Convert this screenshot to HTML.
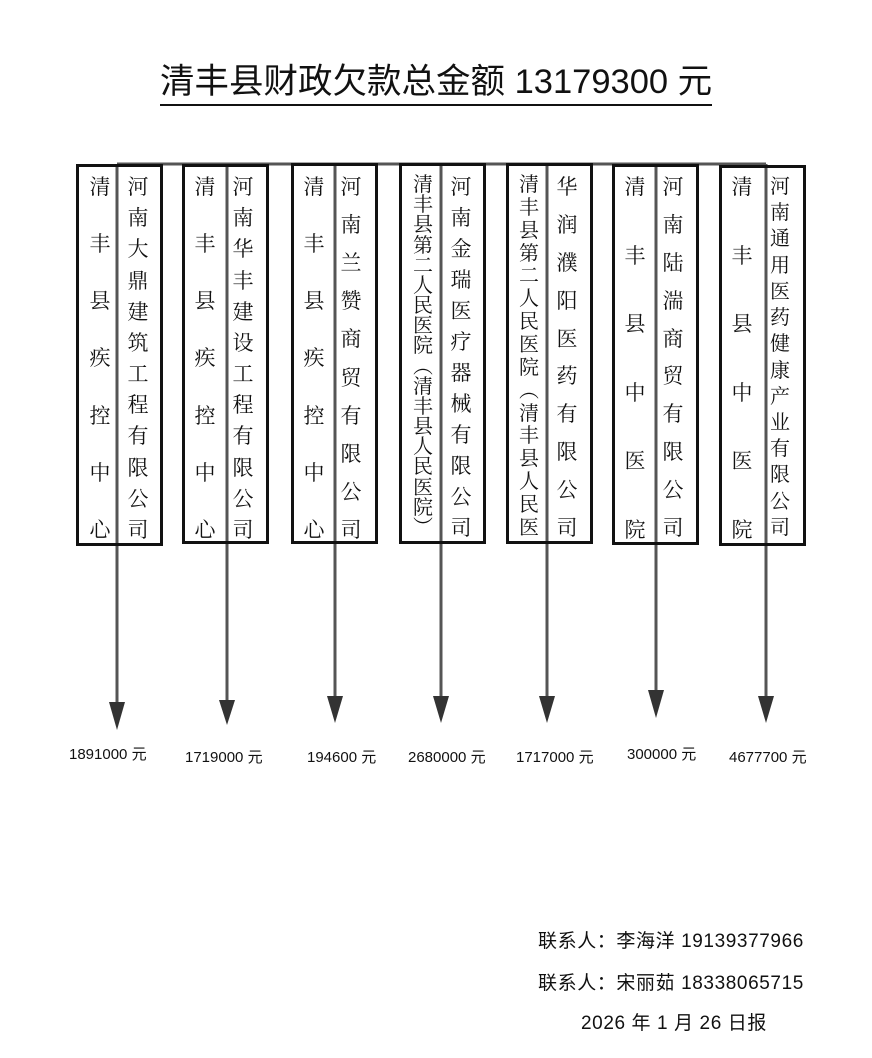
<!DOCTYPE html>
<html><head><meta charset="utf-8">
<style>
body{margin:0;background:#fff;}
#p{position:relative;width:872px;height:1058px;overflow:hidden;font-family:"Liberation Sans","Noto Sans CJK SC",sans-serif;color:#111;}
.box{position:absolute;border:3px solid #111;box-sizing:border-box;}
.col{position:absolute;display:flex;flex-direction:column;justify-content:space-between;align-items:center;font-family:"Noto Serif CJK SC","Noto Sans CJK SC",serif;font-size:21px;line-height:21px;width:30px;}
.col.d{font-size:20px;line-height:19px;}
.amt{position:absolute;top:743px;font-size:15px;font-family:"Liberation Sans","Noto Sans CJK SC",sans-serif;white-space:nowrap;}
.t{position:absolute;font-size:19px;white-space:nowrap;letter-spacing:0.6px;}
</style></head><body><div id="p">
<div style="position:absolute;left:160px;top:60px;font-size:34.5px;line-height:44px;white-space:nowrap;border-bottom:2px solid #111;">清丰县财政欠款总金额 13179300 元</div>

<svg width="872" height="1058" style="position:absolute;left:0;top:0">
<g stroke="#555" stroke-width="3">
<line x1="117" y1="164" x2="766" y2="164"/>
<line x1="117" y1="164" x2="117" y2="705"/>
<line x1="227" y1="164" x2="227" y2="702"/>
<line x1="335" y1="164" x2="335" y2="700"/>
<line x1="441" y1="164" x2="441" y2="700"/>
<line x1="547" y1="164" x2="547" y2="700"/>
<line x1="656" y1="164" x2="656" y2="695"/>
<line x1="766" y1="164" x2="766" y2="700"/>
</g>
<g fill="#333">
<polygon points="109,702 125,702 117,730"/>
<polygon points="219,700 235,700 227,725"/>
<polygon points="327,696 343,696 335,723"/>
<polygon points="433,696 449,696 441,723"/>
<polygon points="539,696 555,696 547,723"/>
<polygon points="648,690 664,690 656,718"/>
<polygon points="758,696 774,696 766,723"/>
</g>
</svg>

<div class="box" style="left:76px;top:164px;width:87px;height:382px"></div>
<div class="box" style="left:182px;top:164px;width:87px;height:380px"></div>
<div class="box" style="left:291px;top:163px;width:87px;height:381px"></div>
<div class="box" style="left:399px;top:163px;width:87px;height:381px"></div>
<div class="box" style="left:506px;top:163px;width:87px;height:381px"></div>
<div class="box" style="left:612px;top:164px;width:87px;height:381px"></div>
<div class="box" style="left:719px;top:165px;width:87px;height:381px"></div>

<div class="col" style="left:85px;top:176px;height:364px"><span>清</span><span>丰</span><span>县</span><span>疾</span><span>控</span><span>中</span><span>心</span></div>
<div class="col" style="left:123px;top:176px;height:364px"><span>河</span><span>南</span><span>大</span><span>鼎</span><span>建</span><span>筑</span><span>工</span><span>程</span><span>有</span><span>限</span><span>公</span><span>司</span></div>

<div class="col" style="left:190px;top:176px;height:364px"><span>清</span><span>丰</span><span>县</span><span>疾</span><span>控</span><span>中</span><span>心</span></div>
<div class="col" style="left:228px;top:176px;height:364px"><span>河</span><span>南</span><span>华</span><span>丰</span><span>建</span><span>设</span><span>工</span><span>程</span><span>有</span><span>限</span><span>公</span><span>司</span></div>

<div class="col" style="left:299px;top:176px;height:364px"><span>清</span><span>丰</span><span>县</span><span>疾</span><span>控</span><span>中</span><span>心</span></div>
<div class="col" style="left:336px;top:176px;height:364px"><span>河</span><span>南</span><span>兰</span><span>赞</span><span>商</span><span>贸</span><span>有</span><span>限</span><span>公</span><span>司</span></div>

<div class="col d" style="left:408px;top:173px;height:362px"><span>清</span><span>丰</span><span>县</span><span>第</span><span>二</span><span>人</span><span>民</span><span>医</span><span>院</span><span>︵</span><span>清</span><span>丰</span><span>县</span><span>人</span><span>民</span><span>医</span><span>院</span><span>︶</span></div>
<div class="col" style="left:446px;top:176px;height:362px"><span>河</span><span>南</span><span>金</span><span>瑞</span><span>医</span><span>疗</span><span>器</span><span>械</span><span>有</span><span>限</span><span>公</span><span>司</span></div>

<div class="col d" style="left:514px;top:173px;height:362px"><span>清</span><span>丰</span><span>县</span><span>第</span><span>二</span><span>人</span><span>民</span><span>医</span><span>院</span><span>︵</span><span>清</span><span>丰</span><span>县</span><span>人</span><span>民</span><span>医</span></div>
<div class="col" style="left:552px;top:176px;height:362px"><span>华</span><span>润</span><span>濮</span><span>阳</span><span>医</span><span>药</span><span>有</span><span>限</span><span>公</span><span>司</span></div>

<div class="col" style="left:620px;top:176px;height:364px"><span>清</span><span>丰</span><span>县</span><span>中</span><span>医</span><span>院</span></div>
<div class="col" style="left:658px;top:176px;height:362px"><span>河</span><span>南</span><span>陆</span><span>湍</span><span>商</span><span>贸</span><span>有</span><span>限</span><span>公</span><span>司</span></div>

<div class="col" style="left:727px;top:176px;height:364px"><span>清</span><span>丰</span><span>县</span><span>中</span><span>医</span><span>院</span></div>
<div class="col d" style="left:765px;top:175px;height:360px;line-height:19px"><span>河</span><span>南</span><span>通</span><span>用</span><span>医</span><span>药</span><span>健</span><span>康</span><span>产</span><span>业</span><span>有</span><span>限</span><span>公</span><span>司</span></div>

<div class="amt" style="left:69px">1891000 元</div>
<div class="amt" style="left:185px;top:746px">1719000 元</div>
<div class="amt" style="left:307px;top:746px">194600 元</div>
<div class="amt" style="left:408px;top:746px">2680000 元</div>
<div class="amt" style="left:516px;top:746px">1717000 元</div>
<div class="amt" style="left:627px;top:743px">300000 元</div>
<div class="amt" style="left:729px;top:746px">4677700 元</div>

<div class="t" style="left:538px;top:926px">联系人：李海洋 19139377966</div>
<div class="t" style="left:538px;top:968px">联系人：宋丽茹 18338065715</div>
<div class="t" style="left:581px;top:1008px">2026 年 1 月 26 日报</div>
</div></body></html>
